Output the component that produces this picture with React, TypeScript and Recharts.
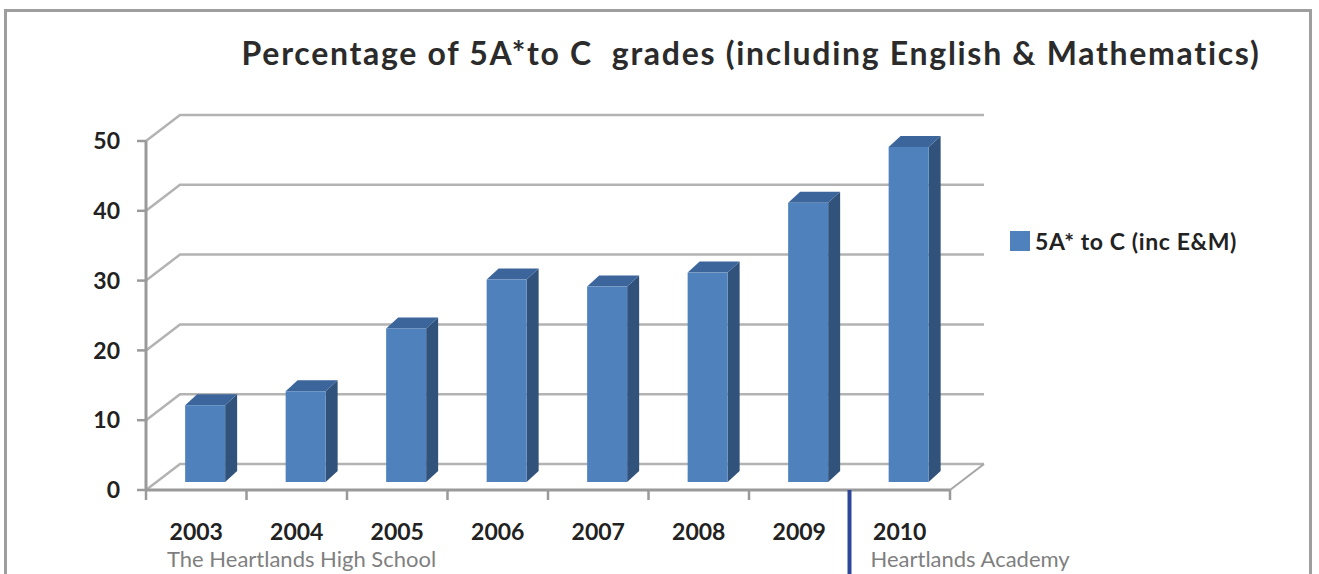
import { BarChart, Bar, XAxis, YAxis, CartesianGrid, Legend } from "recharts";

const years = ["2003", "2004", "2005", "2006", "2007", "2008", "2009", "2010"];
const passRate = [11, 13, 22, 29, 28, 30, 40, 48];
const yTicks = [0, 10, 20, 30, 40, 50];
const schoolGroups = [
  { start: "2003", label: "The Heartlands High School" },
  { start: "2010", label: "Heartlands Academy" },
];
const seriesName = "5A* to C (inc E&M)";
const title = "Percentage of 5A*to C  grades (including English & Mathematics)";

const data = years.map((year, i) => ({ year, value: passRate[i] }));

const W = 1319;
const H = 574;
const PLOT_LEFT = 146;
const PLOT_RIGHT = 950;
const PLOT_TOP = 141;
const PLOT_BOTTOM = 490;
// back wall offset of the fake 3d box
const BACK_DX = 34;
const BACK_DY = -26;
// bars sit a bit into the depth, and have their own small depth
const BAR_DX = 9;
const BAR_DY = -8;
const DEPTH_X = 12;
const DEPTH_Y = 11;

const FONT = "Lato, 'Open Sans', sans-serif";

const Bar3D = (props: any) => {
  const { x, y, width, height } = props;
  if (!height || height <= 0) return null;
  const fx = x + BAR_DX;
  const fy = y + BAR_DY;
  const top = `${fx},${fy} ${fx + DEPTH_X},${fy - DEPTH_Y} ${fx + width + DEPTH_X},${fy - DEPTH_Y} ${fx + width},${fy}`;
  const side = `${fx + width},${fy} ${fx + width + DEPTH_X},${fy - DEPTH_Y} ${fx + width + DEPTH_X},${fy + height - DEPTH_Y} ${fx + width},${fy + height}`;
  return (
    <g>
      <polygon points={side} fill="#30527b" />
      <polygon points={top} fill="#3c659b" />
      <rect x={fx} y={fy} width={width} height={height} fill="#4f81bd" />
    </g>
  );
};

const gridLine = (props: any) => {
  const { x1, y1, x2, y, height } = props;
  const isFloor = typeof y === "number" && typeof height === "number" && Math.abs(y1 - (y + height)) < 1;
  const d = `M${x1},${y1} L${x1 + BACK_DX},${y1 + BACK_DY} L${x2 + BACK_DX},${y1 + BACK_DY}`;
  return (
    <g key={props.key}>
      <path d={d} fill="none" stroke="#b3b3b3" strokeWidth={2.5} />
      {isFloor && (
        <line x1={x2} y1={y1} x2={x2 + BACK_DX} y2={y1 + BACK_DY} stroke="#a6a6a6" strokeWidth={2} />
      )}
    </g>
  );
};

const XTick = (props: any) => {
  const { x, y, payload } = props;
  const idx = years.indexOf(String(payload.value));
  const band = (PLOT_RIGHT - PLOT_LEFT) / years.length;
  const left = x - band / 2;
  const group = schoolGroups.find((g) => g.start === payload.value);
  return (
    <g>
      <line x1={left} y1={y} x2={left} y2={y + 10} stroke="#9a9a9a" strokeWidth={2.5} />
      {idx === years.length - 1 && (
        <line x1={left + band} y1={y} x2={left + band} y2={y + 10} stroke="#9a9a9a" strokeWidth={2.5} />
      )}
      <text x={x} y={y + 50} textAnchor="middle" fontFamily={FONT} fontWeight={700} fontSize={23} fill="#222">
        {payload.value}
      </text>
      {group && (
        <text x={left + 21} y={y + 77} fontFamily={FONT} fontSize={22} fill="#7f7f7f">
          {group.label}
        </text>
      )}
      {group && idx > 0 && <line x1={left} y1={y} x2={left} y2={H + 5} stroke="#2d4697" strokeWidth={4} />}
    </g>
  );
};

const LegendContent = (props: any) => {
  const items = props.payload || [];
  return (
    <div>
      {items.map((item: any) => (
        <div
          key={item.value}
          style={{ display: "flex", alignItems: "center", fontFamily: FONT, fontWeight: 700, fontSize: 23, letterSpacing: 0.6, color: "#222", whiteSpace: "nowrap" }}
        >
          <span style={{ display: "inline-block", width: 20, height: 20, background: "#4f81bd", marginRight: 5 }} />
          {item.value}
        </div>
      ))}
    </div>
  );
};

export default function App() {
  return (
    <div style={{ position: "absolute", left: 0, top: 0, width: W, height: H, overflow: "hidden", background: "#fff" }}>
      <div
        style={{
          position: "absolute",
          left: 4,
          top: 9,
          width: 1308,
          height: 620,
          borderTop: "3px solid #9e9e9e",
          borderLeft: "3px solid #9e9e9e",
          borderRight: "3px solid #9e9e9e",
          boxSizing: "border-box",
        }}
      />
      <div
        style={{
          position: "absolute",
          left: 150,
          top: 34,
          width: 1202,
          textAlign: "center",
          fontFamily: FONT,
          fontWeight: 700,
          fontSize: 32,
          letterSpacing: 1.7,
          lineHeight: 1.2,
          color: "#2b2b2b",
          whiteSpace: "pre",
        }}
      >
        {title}
      </div>
      <div style={{ position: "absolute", left: 0, top: 0 }}>
        <BarChart
          width={W}
          height={H}
          data={data}
          margin={{ top: PLOT_TOP, right: W - PLOT_RIGHT, bottom: 0, left: 0 }}
          barCategoryGap="30%"
        >
          <CartesianGrid vertical={false} horizontal={gridLine} />
          <XAxis
            dataKey="year"
            height={H - PLOT_BOTTOM}
            interval={0}
            tickLine={false}
            tickSize={0}
            tickMargin={0}
            axisLine={{ stroke: "#9a9a9a", strokeWidth: 3 }}
            tick={XTick}
          />
          <YAxis
            width={PLOT_LEFT}
            domain={[0, 50]}
            ticks={yTicks}
            interval={0}
            tickSize={9}
            tickMargin={17}
            axisLine={{ stroke: "#9a9a9a", strokeWidth: 3 }}
            tickLine={{ stroke: "#9a9a9a", strokeWidth: 2.5 }}
            tick={{ fontFamily: FONT, fontWeight: 700, fontSize: 23, fill: "#222" }}
          />
          <Legend
            layout="vertical"
            align="center"
            verticalAlign="middle"
            wrapperStyle={{ left: 1010, top: 227, width: 300, height: 28 }}
            content={LegendContent}
          />
          <Bar dataKey="value" name={seriesName} fill="#4f81bd" shape={Bar3D} isAnimationActive={false} />
        </BarChart>
      </div>
    </div>
  );
}
